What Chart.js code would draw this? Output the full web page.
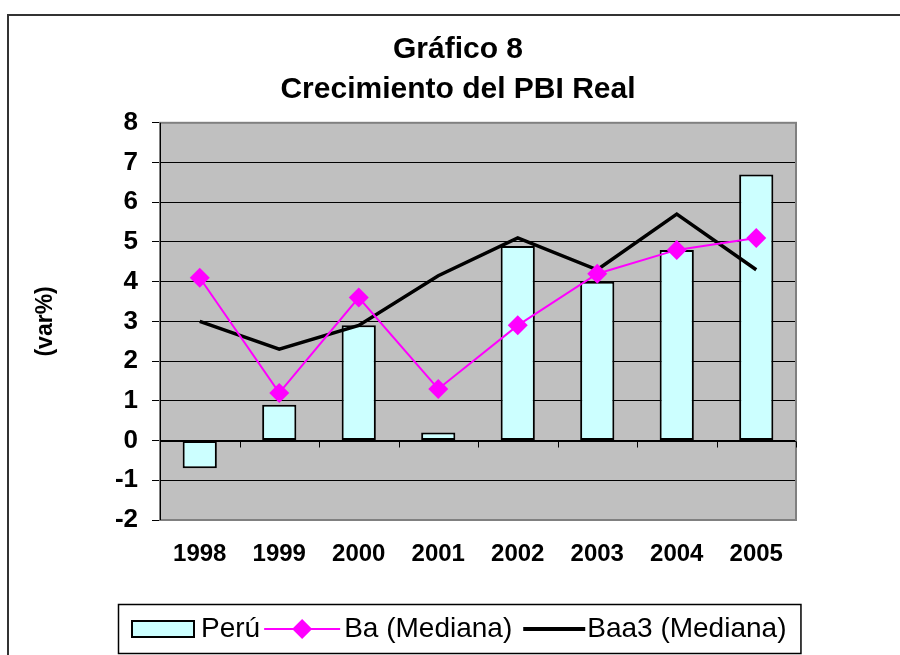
<!DOCTYPE html>
<html>
<head>
<meta charset="utf-8">
<script src="https://cdn.jsdelivr.net/npm/chart.js@4.4.1/dist/chart.umd.min.js"></script>
<style>
  html, body { margin: 0; padding: 0; background: #ffffff; }
  #wrap { width: 900px; height: 655px; position: relative; }
</style>
</head>
<body>
<div id="wrap"><canvas id="c" width="900" height="655"></canvas></div>
<script>
// ---- data ----
const years = ['1998', '1999', '2000', '2001', '2002', '2003', '2004', '2005'];
const peru = [-0.7, 0.9, 2.9, 0.2, 4.9, 4.0, 4.8, 6.7];
const baMediana = [4.1, 1.2, 3.6, 1.3, 2.9, 4.2, 4.8, 5.1];
const baa3Mediana = [3.0, 2.3, 2.9, 4.15, 5.1, 4.3, 5.7, 4.3];
const yTicks = [-2, -1, 0, 1, 2, 3, 4, 5, 6, 7, 8];
const titleLines = ['Gráfico 8', 'Crecimiento del PBI Real'];
const yTitle = '(var%)';
const seriesNames = ['Perú', 'Ba (Mediana)', 'Baa3 (Mediana)'];

const FONT = '"Liberation Sans", Arial, Helvetica, sans-serif';
const BAR_FILL = '#CCFFFF';
const MAGENTA = '#FF00FF';

const framePlugin = {
  id: 'frame',
  beforeDraw(chart) {
    const ctx = chart.ctx, a = chart.chartArea;
    ctx.save();
    ctx.fillStyle = '#ffffff';
    ctx.fillRect(0, 0, chart.width, chart.height);
    ctx.strokeStyle = '#333333';
    ctx.lineWidth = 2;
    ctx.strokeRect(8, 15, chart.width + 20, chart.height + 20);
    ctx.fillStyle = '#C0C0C0';
    ctx.fillRect(a.left, a.top, a.right - a.left, a.bottom - a.top);
    ctx.restore();
  },
  beforeDatasetsDraw(chart) {
    const ctx = chart.ctx, a = chart.chartArea;
    const y = chart.scales.y;
    const y0 = Math.round(y.getPixelForValue(0)) + 0.5;
    ctx.save();
    ctx.strokeStyle = '#808080';
    ctx.lineWidth = 2;
    ctx.strokeRect(a.left, a.top, a.right - a.left, a.bottom - a.top);
    ctx.strokeStyle = '#000000';
    ctx.lineWidth = 1;
    ctx.beginPath();
    ctx.moveTo(a.left + 0.5, a.top);
    ctx.lineTo(a.left + 0.5, a.bottom);
    ctx.stroke();
    ctx.beginPath();
    ctx.moveTo(a.left, y0);
    ctx.lineTo(a.right, y0);
    const step = (a.right - a.left) / years.length;
    for (let i = 0; i <= years.length; i++) {
      const px = Math.round(a.left + i * step) + 0.5;
      ctx.moveTo(px, y0);
      ctx.lineTo(px, y0 + 6);
    }
    ctx.stroke();
    ctx.restore();
  },
  afterDraw(chart) {
    const ctx = chart.ctx;
    ctx.save();
    ctx.font = '28px ' + FONT;
    ctx.textBaseline = 'middle';
    ctx.textAlign = 'left';
    const cy = 629;
    const w0 = ctx.measureText(seriesNames[0]).width;
    const w1 = ctx.measureText(seriesNames[1]).width;
    const w2 = ctx.measureText(seriesNames[2]).width;
    const swatchW = 62, lineW1 = 76, lineW2 = 62;
    const total = swatchW + 7 + w0 + 4 + lineW1 + 4 + w1 + 11 + lineW2 + 2 + w2;
    const padX = 14;
    const boxW = total + 2 * padX;
    const boxL = Math.round(459.5 - boxW / 2);
    ctx.strokeStyle = '#000000';
    ctx.lineWidth = 1.5;
    ctx.strokeRect(boxL + 0.5, 604.5, boxW, 49);
    let x = boxL + padX;
    ctx.fillStyle = BAR_FILL;
    ctx.fillRect(x, cy - 8, swatchW, 16);
    ctx.lineWidth = 2;
    ctx.strokeRect(x, cy - 8, swatchW, 16);
    x += swatchW + 7;
    ctx.fillStyle = '#000000';
    ctx.fillText(seriesNames[0], x, cy);
    x += w0 + 4;
    ctx.strokeStyle = MAGENTA;
    ctx.lineWidth = 2;
    ctx.beginPath();
    ctx.moveTo(x, cy); ctx.lineTo(x + lineW1, cy);
    ctx.stroke();
    const dx = x + lineW1 / 2;
    ctx.fillStyle = MAGENTA;
    ctx.beginPath();
    ctx.moveTo(dx, cy - 10); ctx.lineTo(dx + 10, cy); ctx.lineTo(dx, cy + 10); ctx.lineTo(dx - 10, cy);
    ctx.closePath(); ctx.fill();
    x += lineW1 + 4;
    ctx.fillStyle = '#000000';
    ctx.fillText(seriesNames[1], x, cy);
    x += w1 + 11;
    ctx.strokeStyle = '#000000';
    ctx.lineWidth = 4;
    ctx.beginPath();
    ctx.moveTo(x, cy); ctx.lineTo(x + lineW2, cy);
    ctx.stroke();
    x += lineW2 + 2;
    ctx.fillText(seriesNames[2], x, cy);
    ctx.restore();
  }
};

new Chart(document.getElementById('c'), {
  data: {
    labels: years,
    datasets: [
      {
        type: 'line',
        label: seriesNames[1],
        data: baMediana,
        borderColor: MAGENTA,
        backgroundColor: MAGENTA,
        borderWidth: 2,
        pointStyle: 'rectRot',
        pointRadius: 10,
        pointBorderWidth: 0,
        pointBackgroundColor: MAGENTA,
        tension: 0,
        order: 1
      },
      {
        type: 'line',
        label: seriesNames[2],
        data: baa3Mediana,
        borderColor: '#000000',
        borderWidth: 3.5,
        pointRadius: 0,
        tension: 0,
        order: 2
      },
      {
        type: 'bar',
        label: seriesNames[0],
        data: peru,
        backgroundColor: BAR_FILL,
        borderColor: '#000000',
        borderWidth: 2,
        borderSkipped: false,
        categoryPercentage: 1,
        barPercentage: 0.43,
        order: 3
      }
    ]
  },
  options: {
    responsive: false,
    animation: false,
    layout: { padding: { left: 16, right: 0, top: 0, bottom: 0 } },
    plugins: {
      legend: { display: false },
      tooltip: { enabled: false },
      title: {
        display: true,
        text: titleLines,
        color: '#000000',
        font: { family: FONT, size: 30, weight: 'bold', lineHeight: 1.33 },
        padding: { top: 30, bottom: 13 }
      }
    },
    scales: {
      x: {
        type: 'category',
        offset: true,
        grid: { display: false, drawTicks: false },
        border: { display: false },
        ticks: {
          color: '#000000',
          font: { family: FONT, size: 24, weight: 'bold' },
          padding: 20,
          maxRotation: 0
        },
        afterFit(scale) { scale.height = 135; }
      },
      y: {
        position: 'left',
        min: -2,
        max: 8,
        afterBuildTicks(scale) { scale.ticks = yTicks.map(v => ({ value: v })); },
        grid: { color: '#000000', lineWidth: 1, tickLength: 8, tickColor: '#000000' },
        border: { display: false },
        ticks: {
          color: '#000000',
          font: { family: FONT, size: 26, weight: 'bold' },
          padding: 14
        },
        title: {
          display: true,
          text: yTitle,
          color: '#000000',
          font: { family: FONT, size: 23, weight: 'bold' },
          padding: { top: 16, bottom: 0 }
        },
        afterFit(scale) { scale.width = 144; }
      },
      yRightSpace: {
        position: 'right',
        min: -2,
        max: 8,
        display: true,
        grid: { display: false, drawTicks: false },
        border: { display: false },
        ticks: { display: false },
        afterFit(scale) { scale.width = 104; }
      }
    }
  },
  plugins: [framePlugin]
});
</script>
</body>
</html>
